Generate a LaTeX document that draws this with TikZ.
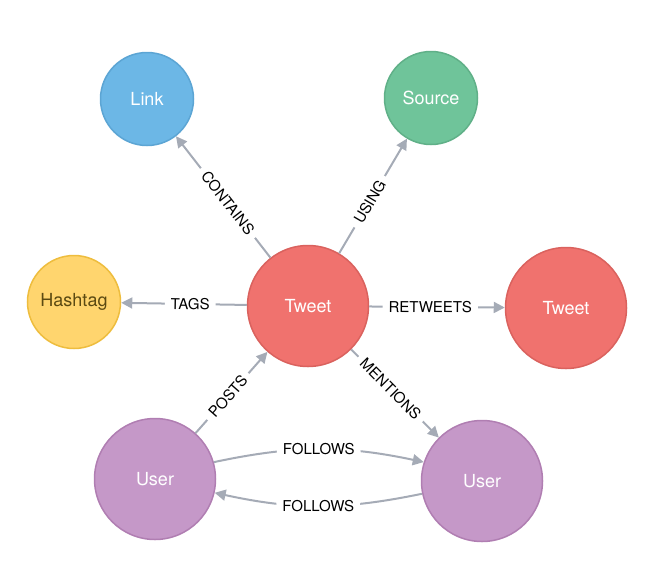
\documentclass[tikz,border=0pt]{standalone}
\usepackage{fontspec}
\setmainfont{TeX Gyre Heros}
\usetikzlibrary{arrows.meta}

\definecolor{kante}{HTML}{A5ABB6}
\definecolor{linkfill}{HTML}{6CB7E6}
\definecolor{linkrand}{HTML}{5CA5D4}
\definecolor{quellfill}{HTML}{6FC49A}
\definecolor{quellrand}{HTML}{60B088}
\definecolor{tagfill}{HTML}{FFD56E}
\definecolor{tagrand}{HTML}{EEBD3E}
\definecolor{tagtext}{HTML}{5B4A12}
\definecolor{tweetfill}{HTML}{F0726E}
\definecolor{tweetrand}{HTML}{DA625E}
\definecolor{userfill}{HTML}{C598C8}
\definecolor{userrand}{HTML}{B07EB2}

\begin{document}
\begin{tikzpicture}[x=1pt, y=1pt, >={Triangle[length=11pt, width=11pt]},
    knoten/.style={circle, line width=1.5pt, text=white, inner sep=0pt,
        font=\fontsize{18}{20}\selectfont},
    klein/.style={knoten, minimum size=93pt},
    gross/.style={knoten, minimum size=121pt},
    rel/.style={->, draw=kante, line width=2pt},
    lbl/.style={sloped, fill=white, inner xsep=6pt, inner ysep=1.5pt, pos=0.45,
        font=\fontsize{15}{17}\selectfont}]

    % Rahmen
    \useasboundingbox (0,0) rectangle (664,-560);

    % Knoten oben
    \node[klein, fill=linkfill, draw=linkrand] (link) at (147,-99) {Link};
    \node[klein, fill=quellfill, draw=quellrand] (src) at (431,-98) {Source};

    % Knoten Mitte
    \node[klein, fill=tagfill, draw=tagrand, text=tagtext] (hash) at (74,-302) {Hashtag};
    \node[gross, fill=tweetfill, draw=tweetrand] (tw) at (308,-306) {Tweet};
    \node[gross, fill=tweetfill, draw=tweetrand] (rt) at (566,-308) {Tweet};

    % Knoten unten
    \node[gross, fill=userfill, draw=userrand] (u1) at (155,-479) {User};
    \node[gross, fill=userfill, draw=userrand] (u2) at (482,-481) {User};

    % Beziehungen vom Tweet aus
    \draw[rel] (tw) -- node[lbl] {CONTAINS} (link);
    \draw[rel] (tw) -- node[lbl] {USING} (src);
    \draw[rel] (tw) -- node[lbl] {TAGS} (hash);
    \draw[rel] (tw) -- node[lbl] {RETWEETS} (rt);
    \draw[rel] (tw) -- node[lbl] {MENTIONS} (u2);

    % Beziehungen der User
    \draw[rel] (u1) -- node[lbl] {POSTS} (tw);
    \draw[rel] (u1.16) to[bend left=12] node[lbl, pos=0.5] {FOLLOWS} (u2.162);
    \draw[rel] (u2.192) to[bend left=12] node[lbl, pos=0.5] {FOLLOWS} (u1.-13);

\end{tikzpicture}
\end{document}
